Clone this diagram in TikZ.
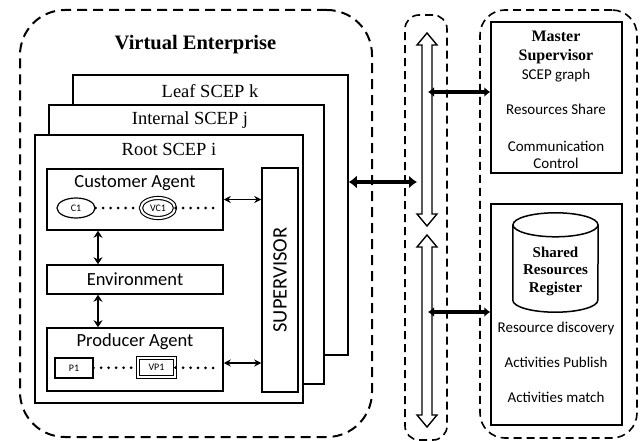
\documentclass[tikz,border=0pt]{standalone}
\usepackage{fontspec}
\setmainfont{Liberation Serif}
\newfontfamily\calibri{Carlito}
\usetikzlibrary{positioning,shapes.geometric,arrows.meta}

\tikzset{
 dashbox/.style={draw,dash pattern=on 10pt off 6pt,line width=2pt,rounded corners=45pt},
 busbox/.style={draw,dash pattern=on 8pt off 5pt,line width=1.6pt,rounded corners=14pt},
 sheet/.style={draw,fill=white,line width=1.5pt,inner sep=0pt},
 sheetlabel/.style={font=\fontsize{18.5}{20}\selectfont},
 agent/.style={draw,fill=white,line width=1.5pt,minimum width=176pt,inner sep=0pt},
 sans/.style={font=\calibri\fontsize{18.5}{20}\selectfont},
 tiny/.style={font=\calibri\fontsize{10}{10}\selectfont,inner sep=0pt},
 small/.style={font=\calibri\fontsize{15}{17}\selectfont,align=center},
 boldserif/.style={font=\bfseries\fontsize{16}{18.5}\selectfont,align=center},
 dots/.style={line width=3pt,line cap=round,dash pattern=on 0pt off 7.5pt},
 thin/.style={line width=1.4pt,{Stealth[length=7pt,width=7pt]}-{Stealth[length=7pt,width=7pt]}},
 vert/.style={line width=2.4pt,{Stealth[length=7pt,width=9pt]}-{Stealth[length=7pt,width=9pt]}},
 fat/.style={line width=4.5pt,{Latex[length=8pt,width=13pt]}-{Latex[length=8pt,width=13pt]}},
 med/.style={line width=3.5pt,{Latex[length=6pt,width=10pt]}-{Latex[length=6pt,width=10pt]}},
 hollow/.style={draw,line width=1.4pt,fill=white,line join=miter}
}

\begin{document}
\begin{tikzpicture}[x=1pt,y=-1pt]
 \useasboundingbox (0,0) rectangle (640,441);
 % virtual enterprise
 \node[dashbox,minimum width=352pt,minimum height=427pt] (ve) at (196,223.5) {};
 \node[font=\bfseries\fontsize{20.5}{22}\selectfont] (vetitle) at (195.5,45) {Virtual Enterprise};
 \node[sheet,minimum width=275pt,minimum height=280pt] (leaf) at (210.5,215) {};
 \node[sheetlabel] (leafl) at (210,91) {Leaf SCEP k};
 \node[sheet,minimum width=275pt,minimum height=279pt] (internal) at (186.5,244.5) {};
 \node[sheetlabel] (internall) at (190,120) {Internal SCEP j};
 \node[sheet,minimum width=268pt,minimum height=268pt] (root) at (169,269) {};
 \node[sheetlabel] (rootl) at (169,149) {Root SCEP i};

 \node[agent,minimum height=61pt] (cust) at (135,199.5) {};
 \node[sans] (custl) at (135,183) {Customer Agent};
 \node[agent,minimum height=29pt,sans] (env) at (135,279.5) {Environment};
 \node[agent,minimum height=63pt] (prod) at (135,359.5) {};
 \node[sans] (prodl) at (135,342) {Producer Agent};
 \node[sheet,minimum width=36pt,minimum height=224pt] (sup) at (280,280) {};
 \node[sans,font=\calibri\fontsize{20.5}{22}\selectfont,rotate=90] (supl) at (sup) {SUPERVISOR};

 \node[tiny,draw,ellipse,line width=1.2pt,minimum width=38pt,minimum height=20pt] (c1) at (76,208) {C1};
 \node[tiny,draw,ellipse,double,double distance=2pt,line width=1.1pt,minimum width=34pt,minimum height=20pt] (vc1) at (158,208) {VC1};
 \coordinate (cend) at (217,208);
 \node[tiny,draw,line width=1.2pt,minimum width=38pt,minimum height=20pt] (p1) at (74,368) {P1};
 \node[tiny,draw,double,double distance=2pt,line width=1.1pt,minimum width=37pt,minimum height=19pt] (vp1) at (156.5,367.5) {VP1};
 \coordinate (pend) at (217,368);
 \draw[dots] (c1) -- (vc1);
 \draw[dots] (vc1) -- (cend);
 \draw[dots] (p1) -- (vp1);
 \draw[dots] (vp1) -- (pend);

 \draw[thin] (cust.east) -- (cust.east -| sup.west);
 \draw[thin] ([yshift=-3.5pt]prod.east) -- ([yshift=-3.5pt]prod.east -| sup.west);
 \draw[vert] ([xshift=-37pt]cust.south) -- ([xshift=-37pt]env.north);
 \draw[vert] ([xshift=-37pt]env.south) -- ([xshift=-37pt]prod.north);

 % bus
 \node[busbox,minimum width=42pt,minimum height=425pt] (bus) at (426,227.5) {};
 \coordinate (b1) at (427,33);
 \coordinate (b2) at (427,226);
 \coordinate (b3) at (427,235);
 \coordinate (b4) at (427,427);
 \draw[hollow] (b1) -- ++(10,12) -- ++(-5,0) -- ([xshift=5pt,yshift=12pt]b2) -- ++(5,0) -- (b2)
   -- ++(-10,-12) -- ++(5,0) -- ([xshift=-5pt,yshift=-12pt]b1) -- ++(-5,0) -- cycle;
 \draw[hollow] (b3) -- ++(10,12) -- ++(-5,0) -- ([xshift=5pt,yshift=12pt]b4) -- ++(5,0) -- (b4)
   -- ++(-10,-12) -- ++(5,0) -- ([xshift=-5pt,yshift=-12pt]b3) -- ++(-5,0) -- cycle;
 \coordinate (bl) at (417,182);
 \draw[fat] (leaf.east |- bl) -- (bl);

 % master side
 \node[busbox,rounded corners=25pt,minimum width=157pt,minimum height=428pt] (side) at (558.5,224) {};
 \node[sheet,minimum width=131pt,minimum height=151pt] (master) at (556.5,97.5) {};
 \node[boldserif] (mastert) at (556,47.5) {Master\\Supervisor};
 \node[small] (scep) at (556,76) {SCEP graph};
 \node[small] (share) at (556,109) {Resources Share};
 \node[small] (comm) at (556,155) {Communication\\Control};
 \node[sheet,minimum width=131pt,minimum height=221pt] (reg) at (556.5,314.5) {};
 \node[minimum width=85pt,minimum height=99pt,inner sep=0pt] (db) at (555.5,262.5) {};
 \draw[line width=1.5pt] ([yshift=-12pt]db.north west) -- ([yshift=12pt]db.south west)
   arc[start angle=180,end angle=360,x radius=42.5pt,y radius=12pt] -- ([yshift=-12pt]db.north east);
 \draw[line width=1.5pt] ([yshift=-12pt]db.north) ellipse[x radius=42.5pt,y radius=12pt];
 \node[boldserif,font=\bfseries\fontsize{15}{17.5}\selectfont] (dbl) at (555.5,271) {Shared\\Resources\\Register};
 \node[small] (disc) at (556,328) {Resource discovery};
 \node[small] (publ) at (556,362) {Activities Publish};
 \node[small] (match) at (556,397) {Activities match};
 \coordinate (m1) at (428,92);
 \coordinate (m2) at (428,312);
 \draw[med] (m1) -- (master.west |- m1);
 \draw[med] (m2) -- (reg.west |- m2);
\end{tikzpicture}
\end{document}
